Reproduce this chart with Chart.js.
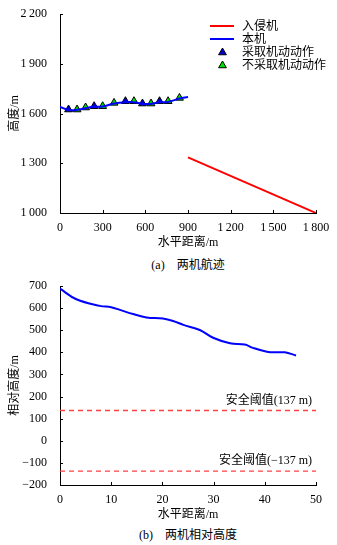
<!DOCTYPE html>
<html>
<head>
<meta charset="utf-8">
<script src="https://cdn.jsdelivr.net/npm/chart.js@4"></script>
<style>
  body { margin: 0; background: #fff; width: 337px; height: 545px; position: relative; overflow: hidden; }
  canvas { position: absolute; left: 0; }
  .cap { position: absolute; left: 60px; width: 256px; text-align: center; font: 12px "Liberation Serif", "Noto Sans CJK SC"; color: #000; }
</style>
</head>
<body>
<canvas id="trackChart" width="337" height="250" style="top:0"></canvas>
<div class="cap" style="top:255px">(a)　两机航迹</div>
<canvas id="relChart" width="337" height="252" style="top:270px"></canvas>
<div class="cap" style="top:525px">(b)　两机相对高度</div>
<script>
    // (a) track data
    var intruderX = [900, 1800];
    var intruderY = [1335, 1000];
    var ownX = [0, 60, 120, 180, 240, 300, 380, 460, 520, 580, 640, 700, 760, 840, 900];
    var ownY = [1640, 1622, 1622, 1632, 1640, 1642, 1660, 1668, 1668, 1658, 1658, 1668, 1670, 1690, 1700];
    var actX = [60, 240, 460, 580, 700];
    var actY = [1624, 1644, 1674, 1660, 1674];
    var noActX = [120, 180, 300, 380, 520, 640, 760, 840];
    var noActY = [1624, 1636, 1644, 1664, 1674, 1660, 1674, 1694];
    var legendLabels = ['入侵机', '本机', '采取机动动作', '不采取机动动作'];

    // (b) relative height data
    var relX = [0, 3.2, 7.8, 10, 11.7, 14.3, 16.9, 20.1, 22.1, 24.1, 27.3, 29.9, 33.2, 36.1, 37.7, 40.4, 42.3, 43.9, 46.1];
    var relY = [688, 640, 610, 604, 592, 573, 558, 553, 542, 524, 501, 466, 441, 435, 420, 403, 400, 400, 386];
    var thresholdX = [0, 50];
    var thresholds = [137, -137];
    var thresholdLabels = ['安全阈值(137 m)', '安全阈值(−137 m)'];

    var serif = '"Liberation Serif", "Noto Sans CJK SC"';
    var tickFont = { family: serif, size: 12 };

    function pts(xs, ys) {
        return xs.map(function (x, i) { return { x: x, y: ys[i] }; });
    }
    function spaced(v) {
        var s = String(Math.abs(v));
        if (s.length > 3) s = s.slice(0, s.length - 3) + '\u2009' + s.slice(s.length - 3);
        return (v < 0 ? '−' : '') + s;
    }

    // small tick marks pointing into the plot
    var innerTicks = {
        id: 'innerTicks',
        afterDraw: function (chart) {
            var ctx = chart.ctx, a = chart.chartArea;
            ctx.save();
            ctx.strokeStyle = '#000';
            ctx.lineWidth = 1;
            chart.scales.x.ticks.forEach(function (t) {
                var px = Math.round(chart.scales.x.getPixelForValue(t.value)) + 0.5;
                ctx.beginPath(); ctx.moveTo(px, a.bottom); ctx.lineTo(px, a.bottom - 3); ctx.stroke();
            });
            chart.scales.y.ticks.forEach(function (t) {
                var py = Math.round(chart.scales.y.getPixelForValue(t.value)) + 0.5;
                ctx.beginPath(); ctx.moveTo(a.left, py); ctx.lineTo(a.left + 3, py); ctx.stroke();
            });
            ctx.restore();
        }
    };

    function axes(xmin, xmax, xstep, ymin, ymax, ystep, ytitle) {
        return {
            x: {
                type: 'linear', min: xmin, max: xmax,
                grid: { display: false },
                border: { display: true, color: '#000', width: 1 },
                ticks: { stepSize: xstep, color: '#000', font: tickFont, padding: 0, maxRotation: 0, callback: spaced },
                title: { display: true, text: '水平距离/m', color: '#000', font: tickFont, padding: { top: 2, bottom: 0 } },
                afterFit: function (s) { s.height = 37; }
            },
            y: {
                type: 'linear', min: ymin, max: ymax,
                grid: { display: false },
                border: { display: true, color: '#000', width: 1 },
                ticks: { stepSize: ystep, color: '#000', font: tickFont, padding: 5, callback: spaced },
                title: { display: true, text: ytitle, color: '#000', font: tickFont, padding: { top: 8, bottom: 0 } },
                afterFit: function (s) { s.width = 60; }
            }
        };
    }

    // legend drawn inside the plot, top right
    var trackLegend = {
        id: 'trackLegend',
        afterDraw: function (chart) {
            var ctx = chart.ctx;
            var rows = [26, 39, 52.5, 65.5];
            ctx.save();
            ctx.font = '12px ' + serif;
            ctx.textBaseline = 'middle';
            ctx.fillStyle = '#000';
            rows.forEach(function (y, i) {
                var ds = chart.data.datasets[i];
                if (i < 2) {
                    ctx.strokeStyle = ds.borderColor; ctx.lineWidth = 2;
                    ctx.beginPath(); ctx.moveTo(210, y); ctx.lineTo(234, y); ctx.stroke();
                } else {
                    ctx.fillStyle = ds.backgroundColor; ctx.strokeStyle = '#000'; ctx.lineWidth = 1;
                    Chart.helpers.drawPoint(ctx, { pointStyle: 'triangle', radius: 4.5, borderWidth: 1 }, 222.5, y);
                    ctx.fillStyle = '#000';
                }
                ctx.fillText(legendLabels[i], 242, y + 0.5);
            });
            ctx.restore();
        }
    };

    new Chart(document.getElementById('trackChart').getContext('2d'), {
        type: 'scatter',
        data: {
            datasets: [
                { label: legendLabels[0], data: pts(intruderX, intruderY), showLine: true, borderColor: '#ff0000', borderWidth: 2, pointRadius: 0 },
                { label: legendLabels[1], data: pts(ownX, ownY), showLine: true, borderColor: '#0000ff', borderWidth: 2, pointRadius: 0, tension: 0.4 },
                { label: legendLabels[2], data: pts(actX, actY), pointStyle: 'triangle', pointRadius: 4.5, backgroundColor: '#0000cc', borderColor: '#000', borderWidth: 1 },
                { label: legendLabels[3], data: pts(noActX, noActY), pointStyle: 'triangle', pointRadius: 4.5, backgroundColor: '#00dd00', borderColor: '#000', borderWidth: 1 }
            ]
        },
        options: {
            responsive: false,
            animation: false,
            layout: { padding: { top: 14, right: 21, left: 0, bottom: 0 } },
            plugins: { legend: { display: false }, tooltip: { enabled: false } },
            scales: axes(0, 1800, 300, 1000, 2200, 300, '高度/m')
        },
        plugins: [innerTicks, trackLegend]
    });

    var thresholdText = {
        id: 'thresholdText',
        afterDraw: function (chart) {
            var ctx = chart.ctx;
            ctx.save();
            ctx.font = '12px ' + serif;
            ctx.textAlign = 'right';
            ctx.textBaseline = 'middle';
            ctx.fillStyle = '#000';
            thresholds.forEach(function (v, i) {
                var px = chart.scales.x.getPixelForValue(thresholdX[1]) - 4;
                var py = chart.scales.y.getPixelForValue(v) - 10;
                ctx.fillText(thresholdLabels[i], px, py);
            });
            ctx.restore();
        }
    };

    new Chart(document.getElementById('relChart').getContext('2d'), {
        type: 'scatter',
        data: {
            datasets: [
                { data: pts(relX, relY), showLine: true, borderColor: '#0000ff', borderWidth: 2, pointRadius: 0, tension: 0.4 },
                { data: pts(thresholdX, [thresholds[0], thresholds[0]]), showLine: true, borderColor: '#ff4040', borderWidth: 1.3, borderDash: [5, 4], pointRadius: 0 },
                { data: pts(thresholdX, [thresholds[1], thresholds[1]]), showLine: true, borderColor: '#ff4040', borderWidth: 1.3, borderDash: [5, 4], pointRadius: 0 }
            ]
        },
        options: {
            responsive: false,
            animation: false,
            layout: { padding: { top: 16, right: 21, left: 0, bottom: 0 } },
            plugins: { legend: { display: false }, tooltip: { enabled: false } },
            scales: axes(0, 50, 10, -200, 700, 100, '相对高度/m')
        },
        plugins: [innerTicks, thresholdText]
    });
</script>
</body>
</html>
